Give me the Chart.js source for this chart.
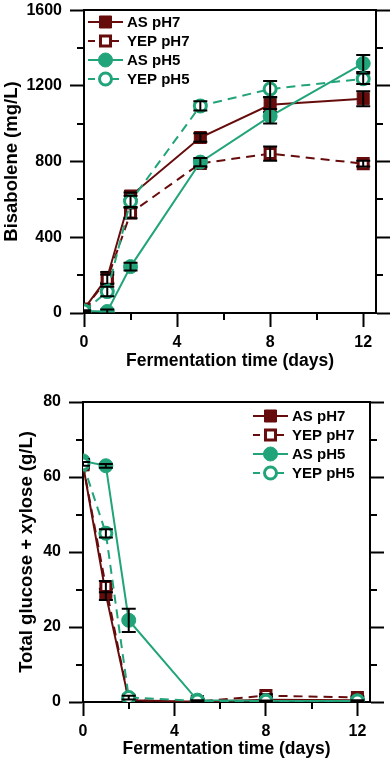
<!DOCTYPE html>
<html>
<head>
<meta charset="utf-8">
<script src="https://cdn.jsdelivr.net/npm/chart.js@4.4.1/dist/chart.umd.min.js"></script>
<style>
  html, body { margin: 0; padding: 0; background: #fff; overflow: hidden; }
  #topChart { position: absolute; left: 0; top: 0; }
  #bottomChart { position: absolute; left: 0; top: 378px; }
</style>
</head>
<body>
<canvas id="topChart" width="392" height="378"></canvas>
<canvas id="bottomChart" width="392" height="383"></canvas>
<script>
// sampling days
const days = [0, 1, 2, 5, 8, 12];
const seriesNames = ['AS pH7', 'YEP pH7', 'AS pH5', 'YEP pH5'];

// bisabolene (mg/L)
const bisAsPh7 = [20, 188, 618, 927, 1100, 1132];
const bisYepPh7 = [20, 178, 528, 790, 842, 789];
const bisAsPh5 = [10, 8, 245, 797, 1039, 1318];
const bisYepPh5 = [10, 113, 590, 1094, 1183, 1237];
const bisAsPh7Err = [5, 28, 18, 22, 38, 40];
const bisYepPh7Err = [5, 25, 28, 20, 38, 15];
const bisAsPh5Err = [5, 10, 20, 22, 38, 45];
const bisYepPh5Err = [5, 25, 30, 25, 42, 28];

// total glucose + xylose (g/L)
const sugarAsPh7 = [63.3, 28.7, 0.5, 0.1, 0.6, 0.5];
const sugarYepPh7 = [63.3, 30.8, 0.5, 0.1, 1.7, 1.2];
const sugarAsPh5 = [64.3, 63.0, 21.8, 0.5, 0.3, 0.3];
const sugarYepPh5 = [63.5, 45.0, 1.2, 0.3, 0.2, 0.3];
const sugarAsPh7Err = [0.8, 1.5, 0.3, 0, 0.3, 0.3];
const sugarYepPh7Err = [0.5, 1.5, 0.3, 0, 0.4, 0.3];
const sugarAsPh5Err = [0.5, 0.5, 3.1, 0.3, 0.2, 0.2];
const sugarYepPh5Err = [0.5, 1.1, 0.5, 0.2, 0.2, 0.2];

// tick labels
const xMajorTicks = [0, 4, 8, 12];
const xMinorTicks = [2, 6, 10];
const bisMajorTicks = [0, 400, 800, 1200, 1600];
const bisMinorTicks = [200, 600, 1000, 1400];
const sugarMajorTicks = [0, 20, 40, 60, 80];
const sugarMinorTicks = [10, 30, 50, 70];

const maroon = '#660c0c';
const green = '#22a47a';
const FONT = "'Liberation Sans', Arial, sans-serif";

// look of each series, same order as seriesNames
const looks = [
  { color: maroon, dash: [], shape: 'rect', filled: true },
  { color: maroon, dash: [9, 6], shape: 'rect', filled: false },
  { color: green, dash: [], shape: 'circle', filled: true },
  { color: green, dash: [9, 6], shape: 'circle', filled: false }
];

function markerStyle(look) {
  if (look.shape === 'rect') {
    return look.filled ? { radius: 8.5, border: 1 } : { radius: 7.1, border: 3 };
  }
  return look.filled ? { radius: 7, border: 1 } : { radius: 6, border: 3 };
}

function makeDatasets(values, errors) {
  return seriesNames.map((name, i) => {
    const look = looks[i];
    const m = markerStyle(look);
    return {
      label: name,
      data: days.map((d, j) => ({ x: d, y: values[i][j] })),
      errors: errors[i],
      borderColor: look.color,
      borderWidth: 2,
      borderDash: look.dash,
      backgroundColor: look.filled ? look.color : '#fff',
      pointStyle: look.shape,
      pointRadius: m.radius,
      pointBorderWidth: m.border,
      pointBackgroundColor: look.filled ? look.color : '#fff',
      pointBorderColor: look.color,
      tension: 0,
      fill: false,
      clip: 0,
      order: seriesNames.length - i
    };
  });
}

// error bars, drawn right after each series
const errorBars = {
  id: 'errorBars',
  afterDatasetDraw(chart, args) {
    const ds = chart.data.datasets[args.index];
    if (!ds.errors) return;
    const ctx = chart.ctx;
    const ys = chart.scales.y;
    const area = chart.chartArea;
    ctx.save();
    ctx.beginPath();
    ctx.rect(area.left, area.top, area.right - area.left, area.bottom - area.top);
    ctx.clip();
    ctx.strokeStyle = '#000';
    ctx.lineWidth = 2;
    args.meta.data.forEach((pt, j) => {
      const e = ds.errors[j];
      if (!e) return;
      const v = ds.data[j].y;
      const y1 = ys.getPixelForValue(v + e);
      const y2 = ys.getPixelForValue(v - e);
      const x = pt.x;
      ctx.beginPath();
      ctx.moveTo(x, y1); ctx.lineTo(x, y2);
      ctx.moveTo(x - 7, y1); ctx.lineTo(x + 7, y1);
      ctx.moveTo(x - 7, y2); ctx.lineTo(x + 7, y2);
      ctx.stroke();
    });
    ctx.restore();
  }
};

// short ticks between the labelled ones
const minorTicks = {
  id: 'minorTicks',
  afterDraw(chart, args, opts) {
    const ctx = chart.ctx;
    const a = chart.chartArea;
    ctx.save();
    ctx.strokeStyle = '#000';
    ctx.lineWidth = 2;
    ctx.beginPath();
    opts.x.forEach(v => {
      const px = Math.round(chart.scales.x.getPixelForValue(v));
      ctx.moveTo(px, a.bottom); ctx.lineTo(px, a.bottom + 7);
    });
    opts.y.forEach(v => {
      const py = Math.round(chart.scales.y.getPixelForValue(v));
      ctx.moveTo(a.left - 7, py); ctx.lineTo(a.left, py);
      ctx.moveTo(a.right, py); ctx.lineTo(a.right + 7, py);
    });
    ctx.stroke();
    ctx.restore();
  }
};

// key with line + marker samples
const seriesKey = {
  id: 'seriesKey',
  afterDraw(chart, args, opts) {
    const ctx = chart.ctx;
    ctx.save();
    chart.data.datasets.forEach((ds, i) => {
      const y = opts.y + i * opts.step;
      const cx = (opts.x1 + opts.x2) / 2;
      ctx.strokeStyle = ds.borderColor;
      ctx.lineWidth = 2;
      ctx.setLineDash(ds.borderDash.length ? [7, 5] : []);
      ctx.beginPath();
      ctx.moveTo(opts.x1, y); ctx.lineTo(opts.x2, y);
      ctx.stroke();
      ctx.setLineDash([]);
      ctx.fillStyle = ds.pointBackgroundColor;
      ctx.strokeStyle = ds.pointBorderColor;
      ctx.lineWidth = ds.pointBorderWidth;
      ctx.beginPath();
      if (ds.pointStyle === 'rect') {
        const s = Math.SQRT1_2 * ds.pointRadius;
        ctx.rect(cx - s, y - s, 2 * s, 2 * s);
      } else {
        ctx.arc(cx, y, ds.pointRadius, 0, Math.PI * 2);
      }
      ctx.fill();
      ctx.stroke();
      ctx.fillStyle = '#000';
      ctx.font = 'bold 15px ' + FONT;
      ctx.textBaseline = 'middle';
      ctx.textAlign = 'left';
      ctx.fillText(ds.label, opts.tx, y + 1);
    });
    ctx.restore();
  }
};

function sizeScale(size, horizontal) {
  return function (s) {
    if (horizontal) s.height = size; else s.width = size;
    s.paddingLeft = 0; s.paddingRight = 0; s.paddingTop = 0; s.paddingBottom = 0;
  };
}

function fixedTicks(list) {
  return function (s) { s.ticks = list.map(v => ({ value: v })); };
}

function makeChart(id, c) {
  const tickFont = { family: FONT, size: 16, weight: 'bold' };
  return new Chart(document.getElementById(id), {
    type: 'line',
    data: { datasets: makeDatasets(c.values, c.errors) },
    plugins: [errorBars, minorTicks, seriesKey],
    options: {
      responsive: false,
      animation: false,
      devicePixelRatio: 1,
      events: [],
      layout: { padding: 0 },
      plugins: {
        legend: { display: false },
        tooltip: { enabled: false },
        minorTicks: { x: xMinorTicks, y: c.yMinor },
        seriesKey: c.key
      },
      scales: {
        x: {
          type: 'linear', position: 'bottom', min: 0, max: 12.55,
          afterBuildTicks: fixedTicks(xMajorTicks),
          afterFit: sizeScale(c.bottomH, true),
          grid: { drawOnChartArea: false, tickLength: 14, tickWidth: 2, tickColor: '#000' },
          border: { color: '#000', width: 2 },
          ticks: { color: '#000', font: tickFont, padding: 6, maxRotation: 0, autoSkip: false,
                   callback: v => String(v) },
          title: {
            display: true, text: 'Fermentation time (days)', color: '#000',
            font: { family: FONT, size: 17.5, weight: 'bold' },
            padding: { top: 0, bottom: c.xTitlePad }
          }
        },
        xTop: {
          type: 'linear', position: 'top', min: 0, max: 12.55,
          afterFit: sizeScale(c.topH, true),
          grid: { drawOnChartArea: false, drawTicks: false },
          border: { color: '#000', width: 2 },
          ticks: { display: false }
        },
        y: {
          type: 'linear', position: 'left', min: 0, max: c.yMax,
          afterBuildTicks: fixedTicks(c.yMajor),
          afterFit: sizeScale(c.leftW, false),
          grid: { drawOnChartArea: false, tickLength: 14, tickWidth: 2, tickColor: '#000' },
          border: { color: '#000', width: 2 },
          ticks: { color: '#000', font: tickFont, padding: 8, autoSkip: false,
                   callback: v => String(v) },
          title: {
            display: true, text: c.yTitle, color: '#000',
            font: { family: FONT, size: 18.5, weight: 'bold' },
            padding: { top: c.yTitlePad, bottom: 0 }
          }
        },
        yRight: {
          type: 'linear', position: 'right', min: 0, max: c.yMax,
          afterBuildTicks: fixedTicks(c.yMajor),
          afterFit: sizeScale(c.rightW, false),
          grid: { drawOnChartArea: false, tickLength: 14, tickWidth: 2, tickColor: '#000' },
          border: { color: '#000', width: 2 },
          ticks: { display: false }
        }
      }
    }
  });
}

makeChart('topChart', {
  values: [bisAsPh7, bisYepPh7, bisAsPh5, bisYepPh5],
  errors: [bisAsPh7Err, bisYepPh7Err, bisAsPh5Err, bisYepPh5Err],
  yMax: 1600,
  yMajor: bisMajorTicks,
  yMinor: bisMinorTicks,
  yTitle: 'Bisabolene (mg/L)',
  yTitlePad: 1,
  xTitlePad: 6,
  leftW: 84, rightW: 16, topH: 9, bottomH: 65,
  key: { x1: 88, x2: 123, tx: 127, y: 22, step: 19 }
});

makeChart('bottomChart', {
  values: [sugarAsPh7, sugarYepPh7, sugarAsPh5, sugarYepPh5],
  errors: [sugarAsPh7Err, sugarYepPh7Err, sugarAsPh5Err, sugarYepPh5Err],
  yMax: 80,
  yMajor: sugarMajorTicks,
  yMinor: sugarMinorTicks,
  yTitle: 'Total glucose + xylose (g/L)',
  yTitlePad: 16,
  xTitlePad: 1,
  leftW: 83, rightW: 22, topH: 24, bottomH: 59,
  key: { x1: 253, x2: 288, tx: 292, y: 38, step: 19 }
});
</script>
</body>
</html>
